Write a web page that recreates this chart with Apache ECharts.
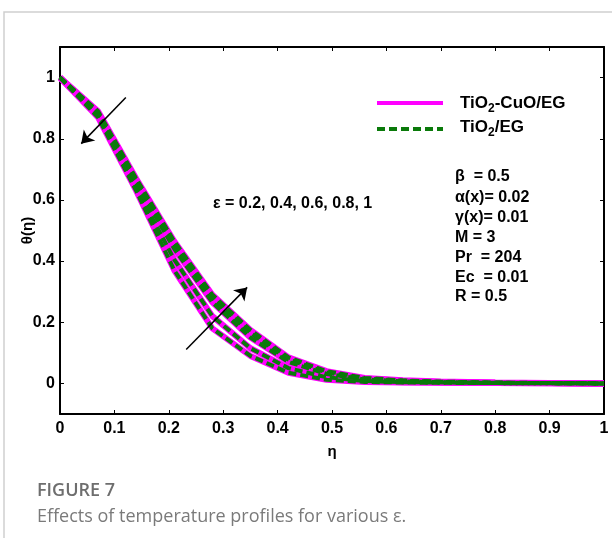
<!DOCTYPE html>
<html>
<head>
<meta charset="utf-8">
<script src="https://cdn.jsdelivr.net/npm/echarts@6/dist/echarts.min.js"></script>
<style>
html,body{margin:0;padding:0;background:#fff;}
#chart{width:612px;height:538px;}
</style>
</head>
<body>
<div id="chart"></div>
<script>
// ---- data ----
var eta = [0, 0.07, 0.14, 0.21, 0.28, 0.35, 0.42, 0.49, 0.56, 0.63, 0.70, 0.80, 0.90, 1.00];
var theta1 = [1, 0.890, 0.670, 0.465, 0.290, 0.175, 0.085, 0.040, 0.018, 0.010, 0.006, 0.003, 0.001, 0];
var theta2 = [1, 0.885, 0.662, 0.455, 0.280, 0.165, 0.078, 0.036, 0.016, 0.009, 0.005, 0.002, 0.001, 0];
var theta3 = [1, 0.880, 0.655, 0.440, 0.265, 0.150, 0.070, 0.031, 0.013, 0.007, 0.004, 0.002, 0.001, 0];
var theta4 = [1, 0.875, 0.640, 0.405, 0.220, 0.115, 0.050, 0.020, 0.008, 0.004, 0.003, 0.001, 0.0005, 0];
var theta5 = [1, 0.870, 0.630, 0.370, 0.180, 0.090, 0.035, 0.012, 0.005, 0.003, 0.002, 0.001, 0.0005, 0];
var curves = [theta1, theta2, theta3, theta4, theta5];
var xTickValues = [0, 0.1, 0.2, 0.3, 0.4, 0.5, 0.6, 0.7, 0.8, 0.9, 1];
var xTicks = ['0','0.1','0.2','0.3','0.4','0.5','0.6','0.7','0.8','0.9','1'];
var yTickValues = [0, 0.2, 0.4, 0.6, 0.8, 1];
var yTicks = ['0','0.2','0.4','0.6','0.8','1'];
var seriesNames = ['TiO2-CuO/EG', 'TiO2/EG'];
var paramLines = ['\u03b2  = 0.5', '\u03b1(x)= 0.02', '\u03b3(x)= 0.01', 'M = 3', 'Pr  = 204', 'Ec  = 0.01', 'R = 0.5'];
var epsLabel = '\u03b5 = 0.2, 0.4, 0.6, 0.8, 1';
// arrows in data coordinates [eta, theta]
var arrow1 = [[0.121, 0.935], [0.039, 0.784]];
var arrow2 = [[0.232, 0.111], [0.344, 0.314]];

var FONT = '"Liberation Sans", Arial, sans-serif';
var CAPFONT = '"Open Sans", "Noto Sans", sans-serif';
var chart = echarts.init(document.getElementById('chart'), null, {renderer: 'canvas'});

function pairs(arr) { return eta.map(function (e, i) { return [e, arr[i]]; }); }
function lbl(vals, texts) {
  return function (v) {
    for (var i = 0; i < vals.length; i++) { if (Math.abs(vals[i] - v) < 1e-6) return texts[i]; }
    return '';
  };
}

var series = [];
curves.forEach(function (c) {
  series.push({
    name: seriesNames[0], type: 'line', data: pairs(c), showSymbol: false, symbol: 'none',
    lineStyle: {color: '#ff00ff', width: 6, type: 'solid'}, z: 2, silent: true
  });
});
curves.forEach(function (c, k) {
  var s = {
    name: seriesNames[1], type: 'line', data: pairs(c), showSymbol: false, symbol: 'none',
    lineStyle: {color: '#0a7a0a', width: 4, type: [8, 4]}, z: 3, silent: true
  };
  if (k === 0) {
    s.markLine = {
      silent: true, animation: false,
      label: {show: false},
      lineStyle: {color: '#000', width: 1.5, type: 'solid'},
      symbol: ['none', 'arrow'], symbolSize: 12,
      data: [
        [{coord: arrow1[0]}, {coord: arrow1[1]}],
        [{coord: arrow2[0]}, {coord: arrow2[1]}]
      ]
    };
  }
  series.push(s);
});

var axisLbl = {fontFamily: FONT, fontSize: 16, fontWeight: 'bold', color: '#000'};
var leftX = 377, rightX = 443;
var subRich = {
  n: {fontFamily: FONT, fontSize: 17, fontWeight: 'bold', fill: '#000'},
  s: {fontFamily: FONT, fontSize: 12, fontWeight: 'bold', fill: '#000', padding: [12, 0, 0, 0]}
};

var graphics = [
  {type: 'rect', shape: {x: 4, y: 12, width: 700, height: 600}, style: {fill: 'none', stroke: '#cfcfcf', lineWidth: 1.5}, silent: true, z: -10},
  {type: 'line', shape: {x1: leftX, y1: 103, x2: rightX, y2: 103}, style: {stroke: '#ff00ff', lineWidth: 4}},
  {type: 'line', shape: {x1: leftX, y1: 129, x2: rightX, y2: 129}, style: {stroke: '#0a7a0a', lineWidth: 4, lineDash: [8, 4]}},
  {type: 'text', x: 460, y: 103, style: {text: '{n|TiO}{s|2}{n|-CuO/EG}', rich: subRich, verticalAlign: 'middle'}},
  {type: 'text', x: 460, y: 127, style: {text: '{n|TiO}{s|2}{n|/EG}', rich: subRich, verticalAlign: 'middle'}},
  {type: 'text', x: 213, y: 204, style: {text: epsLabel, font: 'bold 16px ' + FONT, fill: '#000', verticalAlign: 'middle'}},
  {type: 'text', x: 37, y: 491, style: {text: 'FIGURE 7', font: '600 18px ' + CAPFONT, fill: '#6e6e6e', verticalAlign: 'middle'}},
  {type: 'text', x: 37, y: 517, style: {text: 'Effects of temperature profiles for various \u03b5.', font: '18px ' + CAPFONT, fill: '#7a7a7a', verticalAlign: 'middle'}}
];
var paramY = [177, 198, 218, 238, 258, 278, 297];
paramLines.forEach(function (t, i) {
  graphics.push({type: 'text', x: 455, y: paramY[i], style: {text: t, font: 'bold 16px ' + FONT, fill: '#000', verticalAlign: 'middle'}});
});

var tickStyle = {show: true, inside: true, length: 4, lineStyle: {color: '#000', width: 1}};
var lineStyleAx = {show: true, onZero: false, lineStyle: {color: '#000', width: 2}};

var option = {
  animation: false,
  backgroundColor: '#fff',
  grid: {left: 60, right: 8, top: 47, bottom: 124, containLabel: false},
  xAxis: [{
    type: 'value', min: 0, max: 1, position: 'bottom',
    name: '\u03b7', nameLocation: 'middle', nameGap: 30, nameMoveOverlap: false,
    nameTextStyle: {fontFamily: FONT, fontSize: 15, fontWeight: 'bold', color: '#000'},
    axisLine: lineStyleAx,
    axisTick: Object.assign({customValues: xTickValues}, tickStyle),
    axisLabel: Object.assign({margin: 7, customValues: xTickValues, formatter: lbl(xTickValues, xTicks)}, axisLbl),
    splitLine: {show: false}
  }, {
    type: 'value', min: 0, max: 1, position: 'top',
    axisLine: lineStyleAx,
    axisTick: Object.assign({customValues: xTickValues}, tickStyle),
    axisLabel: {show: false}, splitLine: {show: false}
  }],
  yAxis: [{
    type: 'value', min: -0.1, max: 1.1, position: 'left',
    name: '\u03b8(\u03b7)', nameLocation: 'middle', nameGap: 25, nameRotate: 90, nameMoveOverlap: false,
    nameTextStyle: {fontFamily: FONT, fontSize: 15, fontWeight: 'bold', color: '#000'},
    axisLine: lineStyleAx,
    axisTick: Object.assign({customValues: yTickValues}, tickStyle),
    axisLabel: Object.assign({margin: 5, customValues: yTickValues, formatter: lbl(yTickValues, yTicks)}, axisLbl),
    splitLine: {show: false}
  }, {
    type: 'value', min: -0.1, max: 1.1, position: 'right',
    axisLine: lineStyleAx,
    axisTick: Object.assign({customValues: yTickValues}, tickStyle),
    axisLabel: {show: false}, splitLine: {show: false}
  }],
  series: series,
  graphic: graphics
};
chart.setOption(option);
</script>
</body>
</html>
